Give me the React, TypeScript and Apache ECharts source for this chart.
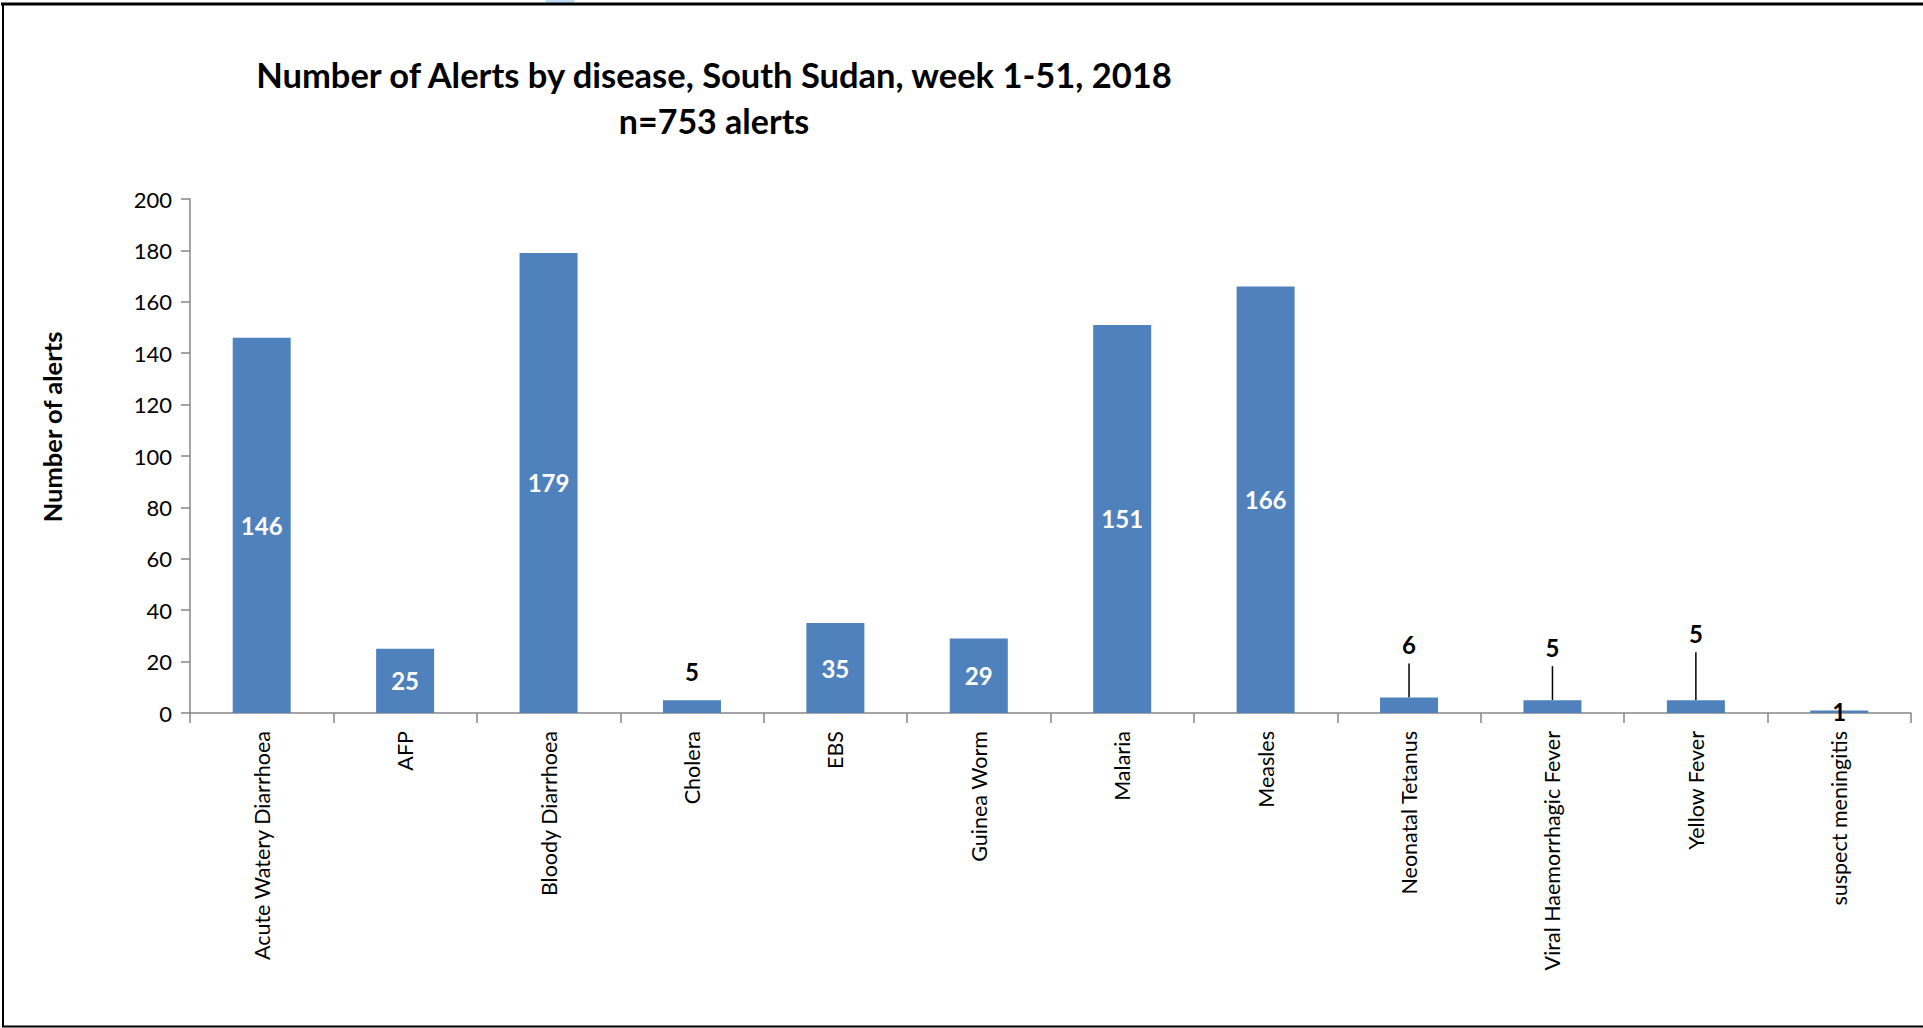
import React, { useEffect, useRef } from "react";
import * as echarts from "echarts";

const categories = [
  "Acute Watery Diarrhoea",
  "AFP",
  "Bloody Diarrhoea",
  "Cholera",
  "EBS",
  "Guinea Worm",
  "Malaria",
  "Measles",
  "Neonatal Tetanus",
  "Viral Haemorrhagic Fever",
  "Yellow Fever",
  "suspect meningitis",
];
const alerts = [146, 25, 179, 5, 35, 29, 151, 166, 6, 5, 5, 1];
// vertical offset of the dragged labels (with leader lines) in the original
const labelLift = [0, 0, 0, 0, 0, 0, 0, 0, -30, -30, -44, 0];
const yTicks = { min: 0, max: 200, interval: 20 };
const titleLines = ["Number of Alerts by disease, South Sudan, week 1-51, 2018", "n=753 alerts"];
const yAxisTitle = "Number of alerts";

const FONT = "Lato";
const BAR = "#4F81BD";
const AXIS = "#868686";

export default function App() {
  const ref = useRef<HTMLDivElement>(null);
  useEffect(() => {
    const chart = echarts.init(ref.current!, null, { renderer: "svg" });
    const data = alerts.map((v, i) => {
      if (v < 3) {
        return { value: v, label: { position: "inside", color: "#000" } };
      }
      if (v < 10) {
        const lifted = labelLift[i] !== 0;
        return {
          value: v,
          label: lifted
            ? {
                position: "top",
                color: "#000",
                distance: 4,
                padding: [0, 0, 7, 0],
                backgroundColor: "rgba(255,255,255,0)",
              }
            : { position: "top", color: "#000", distance: 17 },
          labelLine: { show: lifted, lineStyle: { color: "#000", width: 1.5 } },
        };
      }
      return { value: v, label: { position: "inside", color: "#fff" } };
    });
    chart.setOption({
      animation: false,
      backgroundColor: "#fff",
      textStyle: { fontFamily: FONT },
      grid: { left: 190, right: 12, top: 199, bottom: 315, containLabel: false },
      xAxis: {
        type: "category",
        data: categories,
        axisLine: { show: true, lineStyle: { color: AXIS, width: 1.5 } },
        axisTick: { show: true, length: 10, lineStyle: { color: AXIS, width: 1.5 } },
        axisLabel: { rotate: 90, margin: 18, fontSize: 21.5, color: "#000", fontFamily: FONT, interval: 0 },
      },
      yAxis: {
        type: "value",
        min: yTicks.min,
        max: yTicks.max,
        interval: yTicks.interval,
        splitLine: { show: false },
        axisLine: { show: true, lineStyle: { color: AXIS, width: 1.5 } },
        axisTick: { show: true, length: 9, lineStyle: { color: AXIS, width: 1.5 } },
        axisLabel: { margin: 18, fontSize: 22, color: "#000", fontFamily: FONT },
      },
      series: [
        {
          type: "bar",
          data,
          barWidth: 58,
          itemStyle: { color: BAR },
          label: { show: true, fontSize: 24, fontWeight: "bold", fontFamily: FONT },
          labelLine: { show: false },
          labelLayout: (p: any) => (labelLift[p.dataIndex] ? { dy: labelLift[p.dataIndex] } : {}),
        },
      ],
      graphic: [
        { type: "ellipse", shape: { cx: 560, cy: 1, rx: 15, ry: 3 }, style: { fill: "#BFDDF7" }, z: 5 },
        { type: "line", shape: { x1: 1, y1: 4, x2: 1923, y2: 4 }, style: { stroke: "#000", lineWidth: 3 }, z: 10 },
        { type: "line", shape: { x1: 3, y1: 3, x2: 3, y2: 1027 }, style: { stroke: "#000", lineWidth: 2 }, z: 10 },
        { type: "line", shape: { x1: 2, y1: 1026.5, x2: 1923, y2: 1026.5 }, style: { stroke: "#000", lineWidth: 2 }, z: 10 },
        {
          type: "text",
          x: 714,
          y: 74,
          style: { text: titleLines[0], font: `bold 34.5px ${FONT}`, fill: "#000", align: "center", verticalAlign: "middle" },
        },
        {
          type: "text",
          x: 714,
          y: 120,
          style: { text: titleLines[1], font: `bold 34px ${FONT}`, fill: "#000", align: "center", verticalAlign: "middle" },
        },
        {
          type: "text",
          x: 52,
          y: 427,
          rotation: Math.PI / 2,
          style: { text: yAxisTitle, font: `bold 25.5px ${FONT}`, fill: "#000", align: "center", verticalAlign: "middle" },
        },
      ],
    });
    return () => chart.dispose();
  }, []);
  return <div ref={ref} style={{ position: "absolute", left: 0, top: 0, width: 1923, height: 1028 }} />;
}
